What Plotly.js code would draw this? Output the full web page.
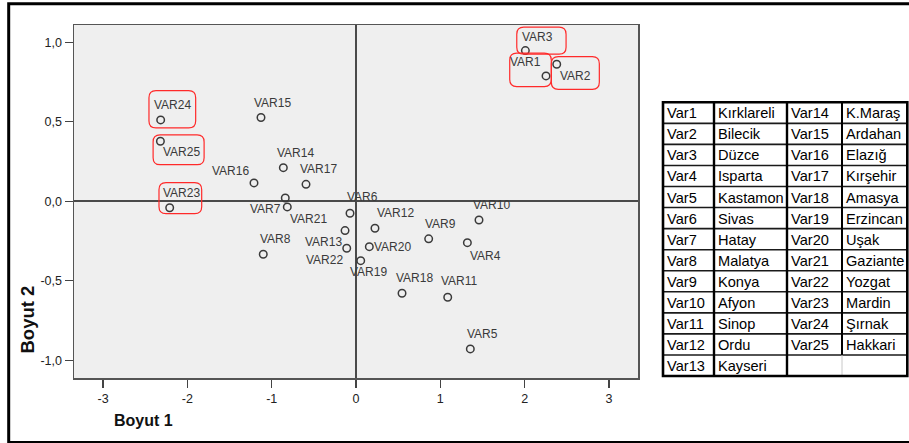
<!DOCTYPE html>
<html>
<head>
<meta charset="utf-8">
<script src="https://cdn.plot.ly/plotly-3.0.1.min.js"></script>
<style>
  html, body { margin: 0; padding: 0; background: #ffffff; }
  #chart { width: 909px; height: 443px; }
</style>
</head>
<body>
<div id="chart"></div>
<script>
// Two-dimensional solution: object points on Boyut 1 / Boyut 2
const varNames = ['VAR1','VAR2','VAR3','VAR4','VAR5','VAR6','VAR7','VAR8','VAR9','VAR10',
  'VAR11','VAR12','VAR13','VAR14','VAR15','VAR16','VAR17','VAR18','VAR19','VAR20',
  'VAR21','VAR22','VAR23','VAR24','VAR25'];
const boyut1 = [2.254, 2.381, 2.009, 1.321, 1.356, -0.071, -0.839, -1.100, 0.862, 1.459,
  1.088, 0.225, -0.130, -0.862, -1.127, -1.210, -0.593, 0.546, 0.056, 0.158,
  -0.815, -0.110, -2.210, -2.317, -2.320];
const boyut2 = [0.789, 0.862, 0.948, -0.260, -0.928, -0.075, 0.021, -0.333, -0.236, -0.117,
  -0.603, -0.169, -0.184, 0.212, 0.527, 0.116, 0.107, -0.578, -0.373, -0.285,
  -0.035, -0.295, -0.040, 0.512, 0.378];

// Axis ticks (decimal comma)
const xTickVals = [-3, -2, -1, 0, 1, 2, 3];
const xTickText = ['-3', '-2', '-1', '0', '1', '2', '3'];
const yTickVals = [-1, -0.5, 0, 0.5, 1];
const yTickText = ['-1,0', '-0,5', '0,0', '0,5', '1,0'];

// Key table: variable code -> province
const keyCodesA = ['Var1','Var2','Var3','Var4','Var5','Var6','Var7','Var8','Var9','Var10','Var11','Var12','Var13'];
const keyCitiesA = ['Kırklareli','Bilecik','Düzce','Isparta','Kastamon','Sivas','Hatay','Malatya','Konya','Afyon','Sinop','Ordu','Kayseri'];
const keyCodesB = ['Var14','Var15','Var16','Var17','Var18','Var19','Var20','Var21','Var22','Var23','Var24','Var25'];
const keyCitiesB = ['K.Maraş','Ardahan','Elazığ','Kırşehir','Amasya','Erzincan','Uşak','Gaziante','Yozgat','Mardin','Şırnak','Hakkari'];

// Highlighted groups
const highlighted = ['VAR1', 'VAR2', 'VAR3', 'VAR23', 'VAR24', 'VAR25'];

// ---- styling / placement ----
const W = 909, H = 443;
const M = { l: 74, r: 271, t: 25, b: 65 };
const PW = W - M.l - M.r, PH = H - M.t - M.b;
const px2paperX = p => (p - M.l) / PW;
const px2paperY = p => 1 - (p - M.t) / PH;

// label offsets from each point, screen pixels [dx, dy] (dy downwards)
const labelOffset = {
  VAR1: [-21, -13], VAR2: [19, 13], VAR3: [12, -13], VAR4: [18, 14], VAR5: [12, -14],
  VAR6: [12, -15], VAR7: [-20, 12], VAR8: [12, -14], VAR9: [12, -14], VAR10: [12, -14],
  VAR11: [12, -15], VAR12: [21, -14], VAR13: [-22, 12], VAR14: [12, -14], VAR15: [12, -14],
  VAR16: [-23, -11], VAR17: [12, -14], VAR18: [12, -14], VAR19: [8, 12], VAR20: [23, 1],
  VAR21: [21, 13], VAR22: [-22, 13], VAR23: [12, -14], VAR24: [12, -14], VAR25: [21, 12]
};
// highlight box extents around a point, screen pixels [left, right, top, bottom]
const boxExtent = {
  VAR24: [-11.7, 35, -29.3, 8],
  VAR25: [-7.3, 43.7, -6.3, 23.4],
  VAR23: [-10.7, 32, -25, 6],
  VAR3: [-8.6, 40.7, -23.4, 3.6],
  VAR1: [-36.3, 5.3, -22.7, 10.7],
  VAR2: [-5.4, 42.6, -7.6, 25]
};

function roundedRectPath(x0, x1, yTop, yBot, r) {
  // pixel-mode shape paths use y pointing up
  const y0 = -yBot, y1 = -yTop;
  return `M${x0 + r},${y0} L${x1 - r},${y0} Q${x1},${y0} ${x1},${y0 + r} ` +
         `L${x1},${y1 - r} Q${x1},${y1} ${x1 - r},${y1} L${x0 + r},${y1} ` +
         `Q${x0},${y1} ${x0},${y1 - r} L${x0},${y0 + r} Q${x0},${y0} ${x0 + r},${y0} Z`;
}

const font = 'Liberation Sans, Arial, sans-serif';

const points = {
  type: 'scatter',
  mode: 'markers',
  x: boyut1,
  y: boyut2,
  text: varNames,
  hoverinfo: 'text',
  marker: { symbol: 'circle-open', size: 7.5, color: '#3a3a3a', line: { width: 1.5, color: '#3a3a3a' } },
  showlegend: false,
  cliponaxis: false
};

const annotations = [];
const shapes = [];

varNames.forEach((n, i) => {
  const off = labelOffset[n];
  annotations.push({
    x: boyut1[i], y: boyut2[i], xref: 'x', yref: 'y',
    text: n, showarrow: false,
    xanchor: 'center', yanchor: 'middle',
    xshift: off[0], yshift: -off[1] + 1,
    font: { family: font, size: 12, color: '#3a3a3a' }
  });
});

highlighted.forEach(n => {
  const i = varNames.indexOf(n);
  const b = boxExtent[n];
  shapes.push({
    type: 'path', xref: 'x', yref: 'y',
    xsizemode: 'pixel', ysizemode: 'pixel',
    xanchor: boyut1[i], yanchor: boyut2[i],
    path: roundedRectPath(b[0], b[1], b[2], b[3], 7),
    line: { color: '#ff2a2a', width: 1.2 },
    fillcolor: 'rgba(0,0,0,0)',
    layer: 'above'
  });
});

// axis titles
annotations.push({
  xref: 'paper', yref: 'paper', x: px2paperX(143.5), y: px2paperY(420.5),
  text: '<b>Boyut 1</b>', showarrow: false, xanchor: 'center', yanchor: 'middle',
  font: { family: font, size: 16, color: '#111' }
});
annotations.push({
  xref: 'paper', yref: 'paper', x: px2paperX(27), y: px2paperY(319.5),
  text: '<b>Boyut 2</b>', showarrow: false, xanchor: 'center', yanchor: 'middle',
  textangle: -90,
  font: { family: font, size: 18.5, color: '#111' }
});

// outer frame
shapes.push({
  type: 'rect', xref: 'paper', yref: 'paper',
  x0: px2paperX(8.7), x1: px2paperX(915), y0: px2paperY(3.7), y1: px2paperY(442.5),
  line: { color: '#000', width: 3 }, fillcolor: 'rgba(0,0,0,0)', layer: 'above'
});

// key table
const colEdges = [663, 714, 787, 842, 907.3];
const tableTop = 102.3, tableBottom = 376;
const nRows = keyCodesA.length;
const rowH = (tableBottom - tableTop) / nRows;
const columns = [keyCodesA, keyCitiesA, keyCodesB, keyCitiesB];

columns.forEach((col, c) => {
  col.forEach((txt, r) => {
    annotations.push({
      xref: 'paper', yref: 'paper',
      x: px2paperX(colEdges[c] + 2), y: px2paperY(tableTop + rowH * (r + 0.5) + 0.5),
      text: txt, showarrow: false, xanchor: 'left', yanchor: 'middle',
      font: { family: font, size: 14.6, color: '#000' }
    });
  });
});

function hLine(x0, x1, y, w, color) {
  shapes.push({ type: 'line', xref: 'paper', yref: 'paper',
    x0: px2paperX(x0), x1: px2paperX(x1), y0: px2paperY(y), y1: px2paperY(y),
    line: { color: color, width: w } });
}
function vLine(x, y0, y1, w, color) {
  shapes.push({ type: 'line', xref: 'paper', yref: 'paper',
    x0: px2paperX(x), x1: px2paperX(x), y0: px2paperY(y0), y1: px2paperY(y1),
    line: { color: color, width: w } });
}
for (let r = 1; r < nRows; r++) {
  hLine(colEdges[0], colEdges[4], tableTop + rowH * r, 1.6, '#1a1a1a');
}
vLine(colEdges[1], tableTop, tableBottom, 2.4, '#000');
vLine(colEdges[2], tableTop, tableBottom, 2.4, '#000');
vLine(colEdges[3], tableTop, tableTop + rowH * keyCodesB.length, 2, '#000');
vLine(colEdges[3], tableTop + rowH * keyCodesB.length, tableBottom, 1, '#c8c8c8');
shapes.push({ type: 'rect', xref: 'paper', yref: 'paper',
  x0: px2paperX(colEdges[0]), x1: px2paperX(colEdges[4]),
  y0: px2paperY(tableTop), y1: px2paperY(tableBottom),
  line: { color: '#000', width: 2.6 }, fillcolor: 'rgba(0,0,0,0)' });

const axisCommon = {
  showgrid: false,
  zeroline: true,
  zerolinecolor: '#4a4a4a',
  zerolinewidth: 2,
  showline: true,
  mirror: true,
  linecolor: '#555',
  linewidth: 1.5,
  ticks: 'outside',
  ticklen: 8,
  tickwidth: 1.2,
  tickcolor: '#444',
  tickfont: { family: font, size: 12.5, color: '#222' },
  fixedrange: true
};

const layout = {
  width: W, height: H,
  margin: M,
  paper_bgcolor: '#ffffff',
  plot_bgcolor: '#efefef',
  xaxis: Object.assign({}, axisCommon, {
    range: [-3.345, 3.345],
    tickmode: 'array', tickvals: xTickVals, ticktext: xTickText
  }),
  yaxis: Object.assign({}, axisCommon, {
    range: [-1.111, 1.109],
    tickmode: 'array', tickvals: yTickVals, ticktext: yTickText
  }),
  annotations: annotations,
  shapes: shapes,
  showlegend: false
};

Plotly.newPlot('chart', [points], layout, { displayModeBar: false, staticPlot: true });
</script>
</body>
</html>
